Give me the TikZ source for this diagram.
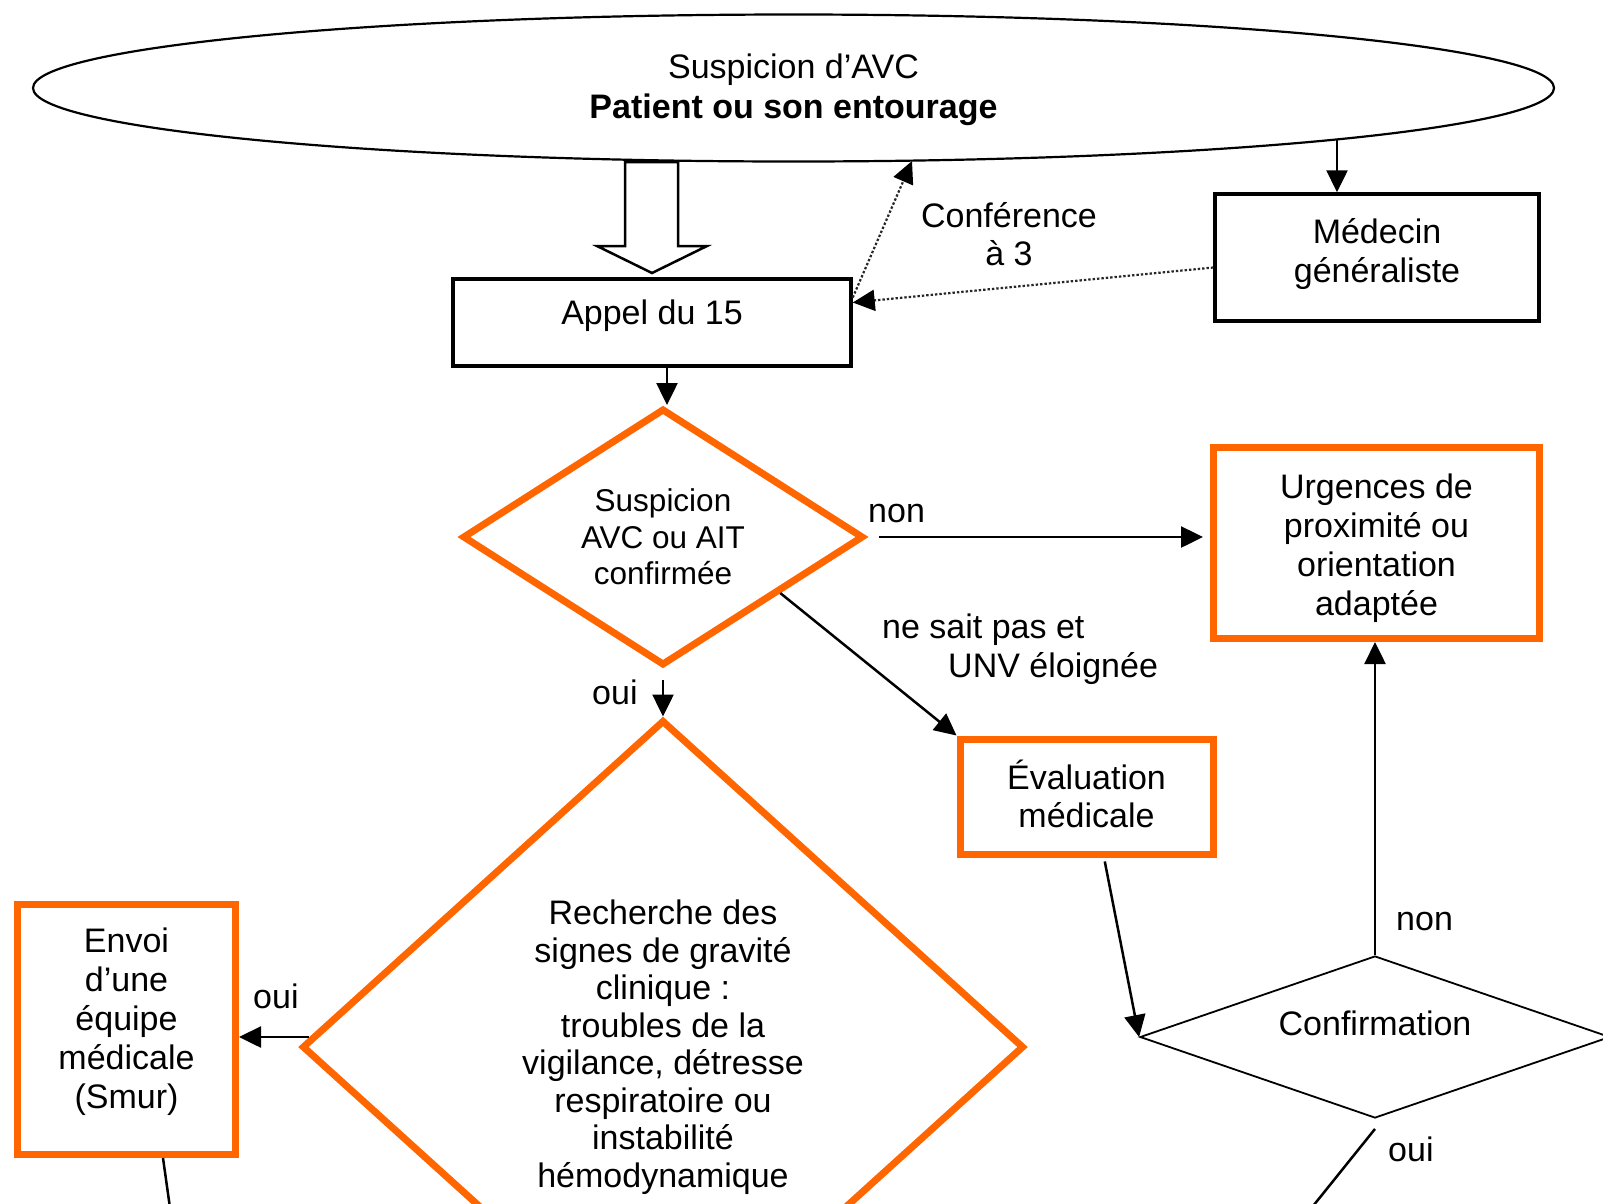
\documentclass[tikz,border=0pt]{standalone}
\usepackage{fontspec}
\setmainfont{Liberation Sans}
\usetikzlibrary{shapes.geometric,arrows.meta,calc}
\definecolor{avcorange}{HTML}{FF6600}
\begin{document}
\begin{tikzpicture}[x=1pt,y=-1pt,
  every node/.style={font=\fontsize{34}{38.5}\selectfont, text=black},
  kbox/.style={draw=black, line width=3.5pt, rectangle, inner sep=0pt},
  obox/.style={draw=avcorange, line width=7pt, rectangle, inner sep=0pt, align=center},
  odia/.style={draw=avcorange, line width=7pt, diamond, inner sep=0pt, align=center},
  cdia/.style={draw=black, line width=1.8pt, diamond, inner sep=0pt},
  arr/.style={draw=black, line width=2.5pt, -{Triangle[length=22pt,width=21pt]}},
  dotarr/.style={draw=black!85, line width=2.2pt, dash pattern=on 2.4pt off 2pt, -{Triangle[length=22pt,width=21pt,fill=black,color=black]}},
  plainline/.style={draw=black, line width=2.5pt},
  lbl/.style={anchor=base west, inner sep=0pt},
  boxtext/.style={align=center, font=\fontsize{34}{39}\selectfont},
]
\useasboundingbox (0,0) rectangle (1603,1203);
\fill[white] (0,0) rectangle (1603,1203);
\clip (0,0) rectangle (1603,1203);

% shapes
\node[ellipse, draw=black, line width=2.2pt, minimum width=1521pt, minimum height=147pt, inner sep=0pt,
  label={[align=center, font=\fontsize{34}{40}\selectfont, yshift=-2pt]center:Suspicion d’AVC\\\textbf{Patient ou son entourage}}] (ell) at (793.5,88) {};

\node[kbox, minimum width=398pt, minimum height=87pt, label={[yshift=6.5pt]center:Appel du 15}] (appel) at (652,322.5) {};

\node[kbox, minimum width=324pt, minimum height=127pt, label={[boxtext,yshift=3.5pt]center:Médecin\\généraliste}] (med) at (1377,257.5) {};

\node[odia, minimum width=401pt, minimum height=257pt, aspect=1.56, font=\fontsize{31.5}{36.5}\selectfont] (d1) at (663,537) {Suspicion\\AVC ou AIT\\confirmée};

\node[odia, minimum width=722pt, minimum height=654pt, aspect=1.1, font=\fontsize{34}{37.5}\selectfont] (d2) at (663,1047) {Recherche des\\signes de gravité\\clinique :\\troubles de la\\vigilance, détresse\\respiratoire ou\\instabilité\\hémodynamique};

\node[obox, minimum width=326pt, minimum height=191pt, label={[boxtext,yshift=-5.5pt]center:Urgences de\\proximité ou\\orientation\\adaptée}] (urg) at (1376.5,543) {};

\node[obox, minimum width=253pt, minimum height=115pt, label={[boxtext,font=\fontsize{34}{38}\selectfont,yshift=2.5pt]center:Évaluation\\médicale}] (eval) at (1086.5,796.5) {};

\node[obox, minimum width=218pt, minimum height=250pt, label={[boxtext,yshift=7.5pt]center:Envoi\\d’une\\équipe\\médicale\\(Smur)}] (envoi) at (126.5,1029.5) {};

\node[cdia, minimum width=470pt, minimum height=162pt, aspect=2.9, label={[yshift=14pt]center:Confirmation}] (conf) at (1375,1037) {};

% big hollow arrow
\draw[line width=2.5pt, fill=white, line join=miter] (625,162) -- (678,162) -- (678,246) -- (707,246) -- (652,273) -- (597,246) -- (625,246) -- cycle;

% connectors
\coordinate (e1) at ([shift={(543.5pt,-52pt)}]ell.center);
\draw[arr] (e1) -- (e1 |- med.north);
\coordinate (e2) at ([shift={(118.5pt,-73pt)}]ell.center);
\draw[dotarr] ([yshift=-10pt]med.west) -- ([yshift=20pt]appel.east);
\draw[dotarr] ([yshift=25pt]appel.east) -- (e2);

\coordinate (a1) at ([xshift=15pt]appel.south);
\draw[arr] (a1) -- (a1 |- d1.north);

\draw[arr, shorten <=12pt, shorten >=7pt] (d1.east) -- (d1.east -| urg.west);
\draw[arr] ($(d1.east)!0.425!(d1.south)$) -- (eval.north west);
\draw[arr, shorten <=11pt] (d1.south) -- (d2.north);

\coordinate (d2l) at ([shift={(-354pt,10pt)}]d2.center);
\draw[arr] (d2l) -- (d2l -| envoi.east);

\coordinate (envoiout) at (171,1215);
\draw[plainline] ([xshift=36.5pt]envoi.south) -- (envoiout);

\draw[arr, shorten <=4pt] ([xshift=17.5pt]eval.south) -- (conf.west);
\draw[arr] (conf.north) -- (conf.north |- urg.south);

\coordinate (confout) at (1305,1216);
\draw[plainline] ([yshift=-10pt]conf.south) -- (confout);

% labels
\node[align=center, inner sep=0pt] (lconf) at (1009,234) {Conférence\\à 3};
\node[lbl] (lnon1) at (868,522) {non};
\node[lbl] (lnsp1) at (882,638) {ne sait pas et};
\node[lbl] (lnsp2) at (948,677) {UNV éloignée};
\node[lbl] (loui1) at (592,704) {oui};
\node[lbl] (loui2) at (253,1008) {oui};
\node[lbl] (lnon2) at (1396,930) {non};
\node[lbl] (loui3) at (1388,1161) {oui};
\end{tikzpicture}
\end{document}
